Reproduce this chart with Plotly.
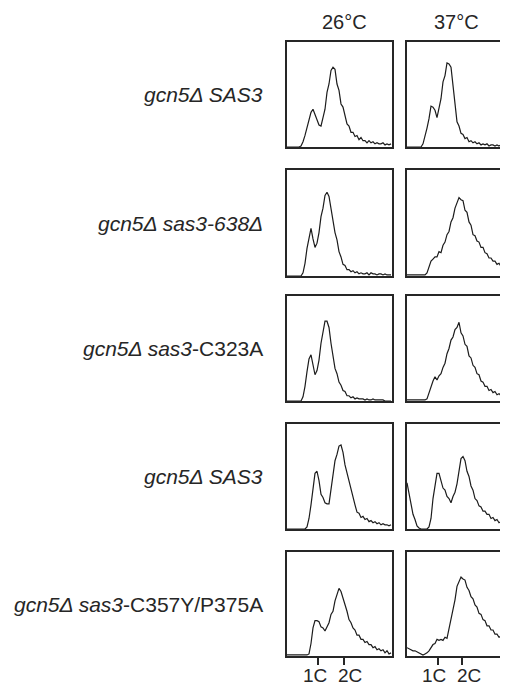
import plotly.graph_objects as go

# channel positions (DNA content axis, arbitrary units across the panel)
channel = list(range(0, 106, 2))

row_labels = [
    "<i>gcn5Δ SAS3</i>",
    "<i>gcn5Δ sas3-638Δ</i>",
    "<i>gcn5Δ sas3</i>-C323A",
    "<i>gcn5Δ SAS3</i>",
    "<i>gcn5Δ sas3</i>-C357Y/P375A",
]
col_labels = ["26°C", "37°C"]
tick_vals = [[31, 57], [31, 55]]
tick_text = ["1C", "2C"]
tick_label_pos = [[28, 63], [27, 62]]

# cell counts (% of panel height) at each channel
r1_26 = [0, 0, 0, 0, 0, 0, 0, 1, 5, 11, 18, 24, 33, 36, 30, 26, 21, 20, 28, 36, 52, 60, 73, 76, 74, 60,
         54, 41, 38, 31, 22, 20, 14, 14, 10, 11, 7, 9, 6, 6, 4, 6, 4, 5, 3, 4, 3, 3, 4, 2, 3, 2, 3]
r1_37 = [0, 0, 0, 0, 0, 0, 0, 0, 3, 10, 18, 27, 39, 38, 35, 28, 36, 46, 62, 68, 80, 79, 76, 58, 42, 24,
         20, 13, 12, 8, 9, 5, 6, 4, 5, 3, 4, 2, 3, 2, 3, 1, 2, 2, 1, 2, 1, 2, 1, 1, 2, 1, 1]
r2_26 = [0, 0, 0, 0, 0, 0, 0, 0, 3, 12, 26, 37, 45, 35, 27, 31, 41, 56, 64, 76, 79, 75, 63, 55, 41, 34,
         23, 18, 11, 10, 6, 6, 4, 5, 3, 4, 2, 3, 2, 2, 3, 1, 3, 2, 2, 1, 2, 2, 1, 2, 1, 1, 1]
r2_37 = [1, 1, 1, 1, 1, 1, 1, 1, 1, 1, 3, 8, 14, 16, 18, 18, 23, 22, 29, 32, 39, 42, 51, 55, 64, 69,
         74, 72, 71, 62, 60, 51, 48, 39, 38, 33, 32, 27, 27, 22, 21, 17, 17, 14, 14, 11, 12, 9, 11, 8, 9, 7, 8]
r3_26 = [0, 0, 0, 0, 0, 0, 0, 0, 4, 14, 28, 40, 44, 34, 25, 29, 39, 55, 65, 76, 76, 70, 55, 43, 31, 26,
         18, 15, 10, 9, 5, 5, 3, 4, 2, 3, 2, 2, 2, 1, 2, 1, 1, 2, 1, 1, 1, 1, 1, 0, 0, 0, 0]
r3_37 = [1, 1, 1, 1, 1, 1, 1, 1, 1, 1, 2, 8, 15, 19, 23, 20, 24, 26, 32, 36, 45, 50, 58, 61, 68, 70,
         75, 65, 62, 54, 52, 43, 41, 34, 32, 26, 25, 19, 18, 14, 14, 10, 11, 8, 9, 6, 7, 5, 6, 4, 5, 3, 4]
r4_26 = [0, 0, 0, 0, 0, 0, 0, 0, 0, 0, 2, 10, 23, 39, 53, 55, 46, 33, 30, 25, 24, 24, 39, 51, 65, 71,
         79, 80, 73, 61, 53, 44, 39, 29, 23, 16, 15, 11, 12, 9, 10, 7, 8, 6, 7, 5, 6, 4, 5, 4, 4, 3, 4]
r4_37 = [44, 34, 26, 14, 9, 3, 1, 0, 0, 0, 0, 2, 10, 29, 43, 53, 53, 47, 39, 37, 31, 29, 25, 31, 35, 43,
         54, 67, 69, 65, 55, 50, 41, 37, 29, 27, 22, 21, 17, 17, 14, 14, 10, 11, 8, 9, 6, 7, 4, 5, 2, 3, 2]
r5_26 = [1, 1, 1, 1, 1, 1, 1, 1, 1, 1, 1, 2, 12, 27, 34, 34, 33, 28, 27, 24, 29, 32, 40, 43, 53, 59,
         65, 62, 56, 49, 43, 35, 32, 27, 25, 20, 20, 16, 16, 13, 14, 11, 11, 8, 9, 6, 7, 5, 6, 3, 5, 2, 3]
r5_37 = [8, 7, 6, 5, 5, 4, 3, 2, 1, 2, 3, 5, 8, 11, 12, 16, 15, 16, 15, 18, 17, 26, 34, 45, 54, 67,
         71, 76, 74, 73, 66, 63, 57, 55, 49, 47, 41, 40, 35, 34, 29, 29, 25, 25, 21, 21, 18, 19, 16, 17, 14, 15, 13]

series = [[r1_26, r1_37], [r2_26, r2_37], [r3_26, r3_37], [r4_26, r4_37], [r5_26, r5_37]]

# the page body has an 8px margin; the figure is sized to fill the rest of the window
OFF = 8
W, H = 508 - OFF, 687 - OFF
row_tops = [t - OFF for t in [42, 170, 296, 424, 552]]
row_bottoms = [b - OFF for b in [147, 276, 401, 529, 656]]
col_lefts = [l - OFF for l in [287, 407]]
panel_w = 105
label_right = 265 - OFF
header_x = [h - OFF for h in [344, 456]]
header_y = 22 - OFF
ticklabel_y = 675 - OFF

FONT = "Arial, Liberation Sans, sans-serif"
INK = "#262626"

fig = go.Figure()
layout = dict(
    width=W, height=H, margin=dict(l=0, r=0, t=0, b=0),
    paper_bgcolor="white", plot_bgcolor="white", showlegend=False,
    font=dict(family=FONT, size=20, color=INK),
)
annotations = []

for r in range(5):
    for c in range(2):
        k = r * 2 + c + 1
        xa = "x" if k == 1 else f"x{k}"
        ya = "y" if k == 1 else f"y{k}"
        fig.add_trace(go.Scatter(
            x=channel, y=series[r][c], mode="lines", xaxis=xa, yaxis=ya,
            line=dict(color="#1c1c1c", width=1.2), hoverinfo="skip",
        ))
        x0 = col_lefts[c] / W
        x1 = min((col_lefts[c] + panel_w) / W, 1.0)
        visible_w = min(panel_w, W - col_lefts[c])
        y0 = (H - row_bottoms[r]) / H
        y1 = (H - row_tops[r]) / H
        last = r == 4
        layout["xaxis" if k == 1 else f"xaxis{k}"] = dict(
            domain=[x0, x1], range=[0, visible_w], anchor=ya,
            showline=True, mirror=True, linecolor=INK, linewidth=1.6,
            showgrid=False, zeroline=False,
            tickvals=tick_vals[c] if last else [],
            ticks="outside" if last else "", ticklen=7, tickwidth=1.5, tickcolor=INK,
            showticklabels=False,
        )
        layout["yaxis" if k == 1 else f"yaxis{k}"] = dict(
            domain=[y0, y1], range=[0, 100], anchor=xa,
            showline=True, mirror=(c == 0), linecolor=INK, linewidth=1.6,
            showgrid=False, zeroline=False, showticklabels=False, ticks="",
        )
        if last:
            for pos, txt in zip(tick_label_pos[c], tick_text):
                annotations.append(dict(
                    text=txt, x=pos, xref=xa, y=(H - ticklabel_y) / H, yref="paper",
                    xanchor="center", yanchor="middle", showarrow=False,
                    font=dict(size=19, color=INK, family=FONT),
                ))
    yc = (H - (row_tops[r] + row_bottoms[r]) / 2) / H
    annotations.append(dict(
        text=row_labels[r], x=label_right / W, y=yc, xref="paper", yref="paper",
        xanchor="right", yanchor="middle", showarrow=False,
        font=dict(size=21, color=INK, family=FONT),
    ))

for c, lab in enumerate(col_labels):
    annotations.append(dict(
        text=lab, x=header_x[c] / W, y=(H - header_y) / H, xref="paper", yref="paper",
        xanchor="center", yanchor="middle", showarrow=False,
        font=dict(size=20, color=INK, family=FONT),
    ))

layout["annotations"] = annotations
fig.update_layout(**layout)
fig.write_html("out.html")
